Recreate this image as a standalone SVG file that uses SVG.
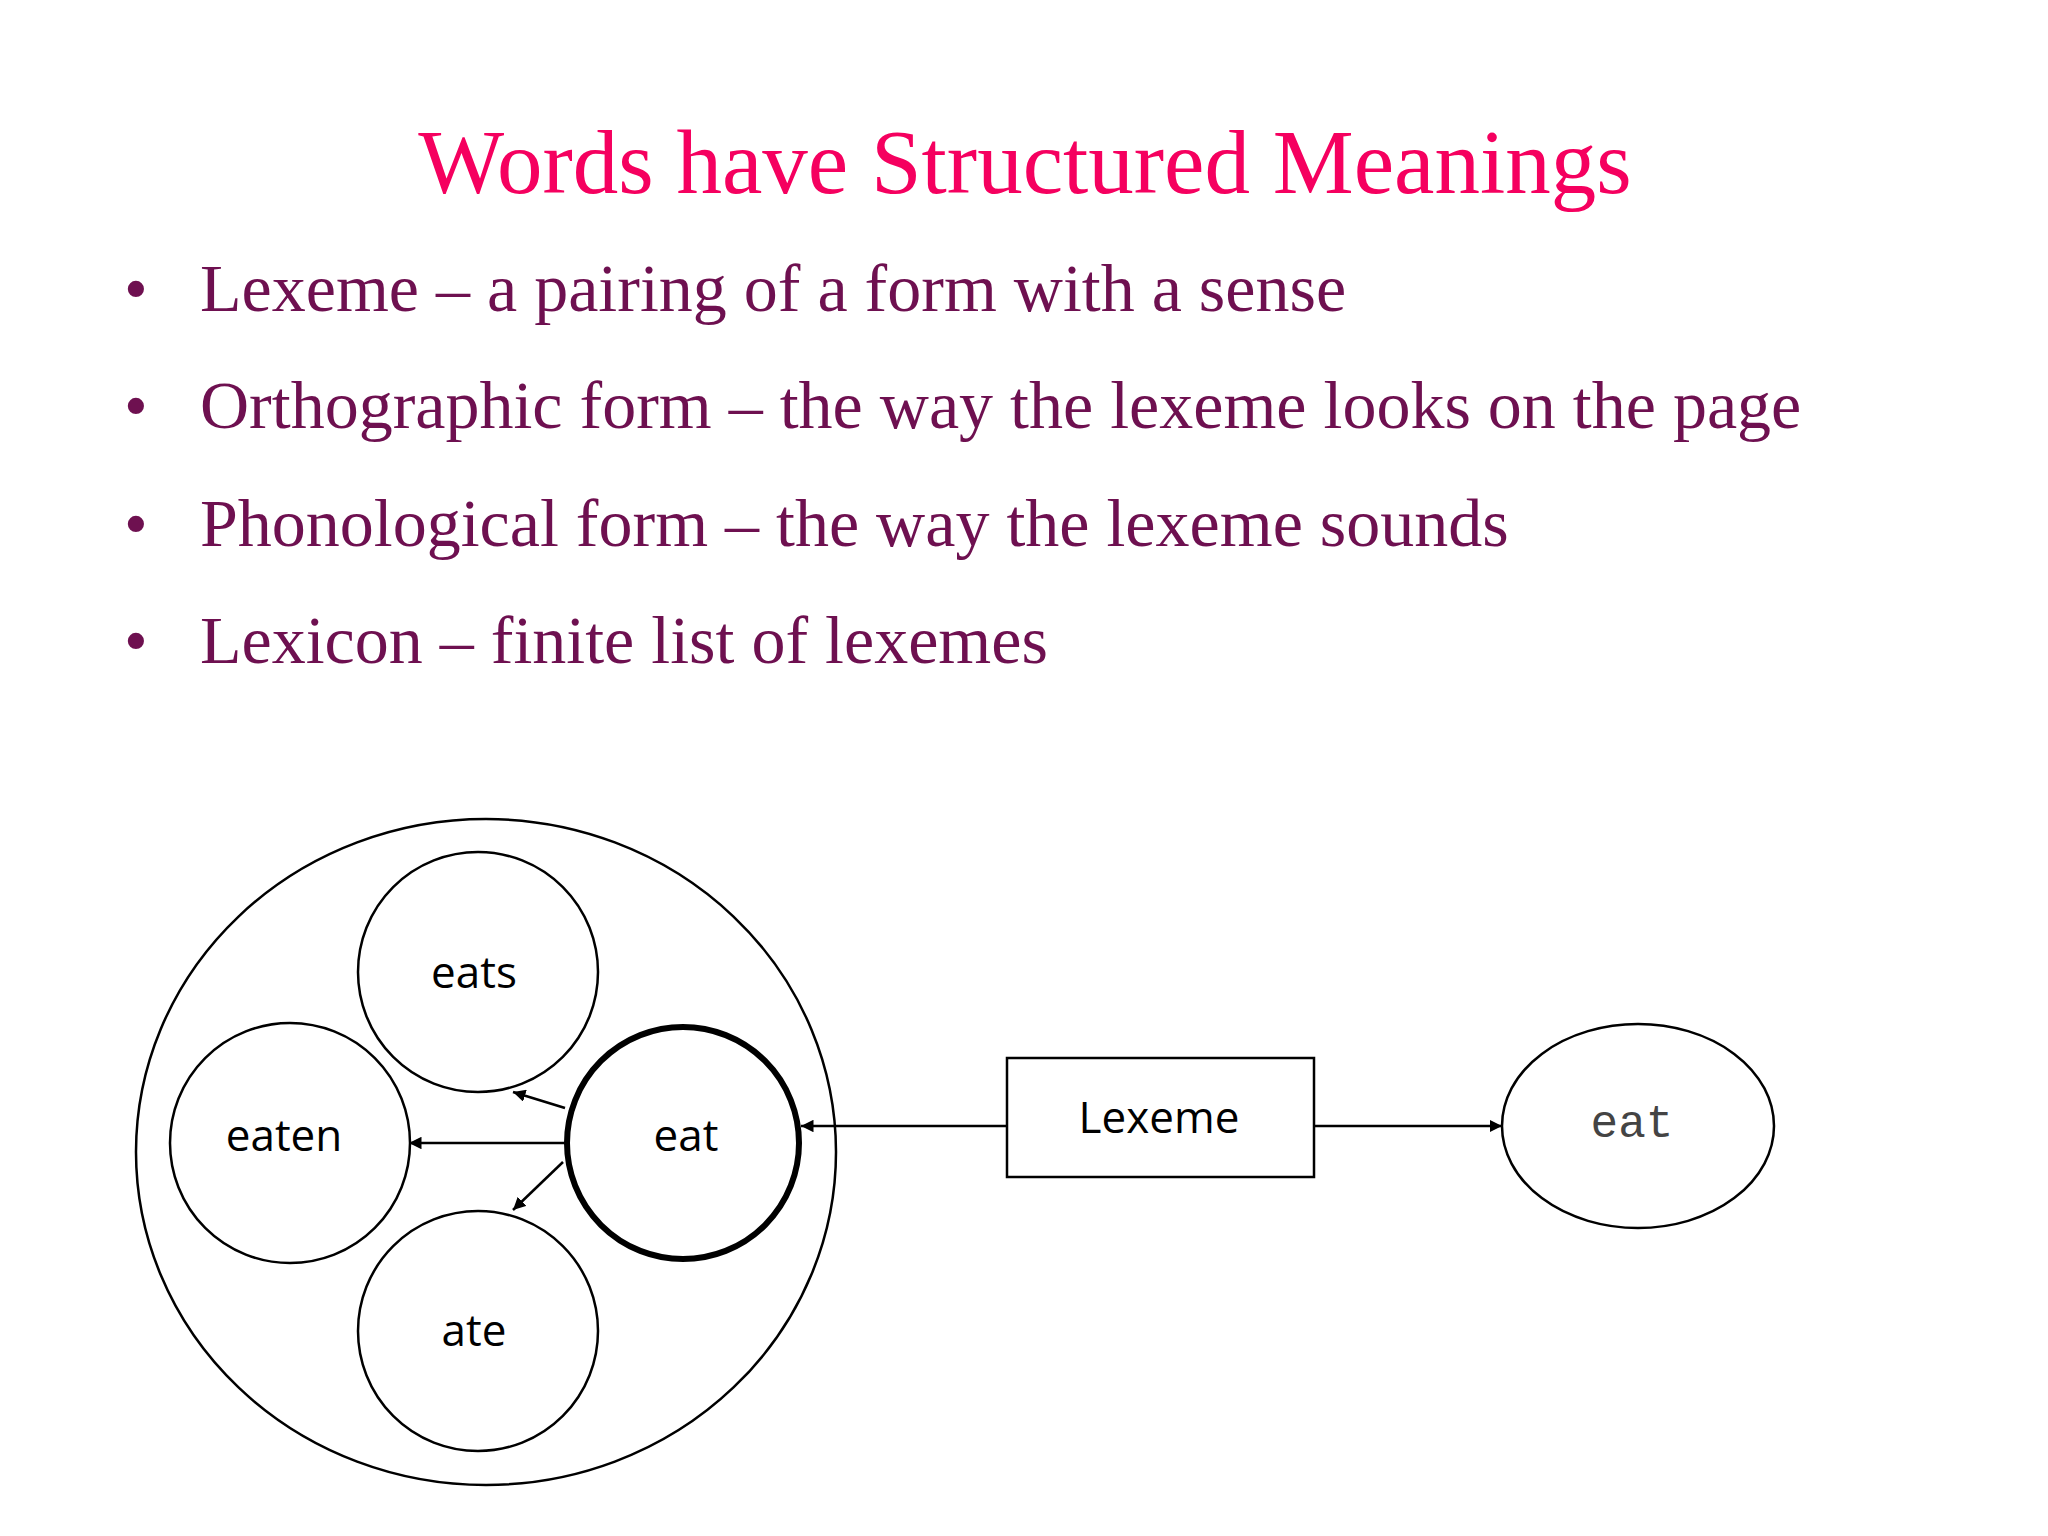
<svg xmlns="http://www.w3.org/2000/svg" width="2048" height="1536" viewBox="0 0 2048 1536">
<style>
.t{font-family:"Liberation Serif",serif;}
.b{font-family:"Liberation Serif",serif;font-size:68px;fill:#6E1050;}
.n{font-family:"Open Sans","Liberation Sans",sans-serif;font-size:44px;fill:#000;text-anchor:middle;}
.c{fill:#fff;stroke:#000;stroke-width:2.5;}
.l{stroke:#000;stroke-width:2.5;fill:none;}
</style>
<defs>
<marker id="a" viewBox="0 0 10 10" refX="10" refY="5" markerWidth="5" markerHeight="5" orient="auto"><path d="M0,0L10,5L0,10z" fill="#000"/></marker>
</defs>
<rect width="2048" height="1536" fill="#fff"/>
<text class="t" x="1025" y="193" font-size="91" fill="#F5005F" text-anchor="middle">Words have Structured Meanings</text>
<g class="b">
<text x="124" y="311">•</text><text x="200" y="311">Lexeme – a pairing of a form with a sense</text>
<text x="124" y="428">•</text><text x="200" y="428">Orthographic form – the way the lexeme looks on the page</text>
<text x="124" y="546">•</text><text x="200" y="546">Phonological form – the way the lexeme sounds</text>
<text x="124" y="663">•</text><text x="200" y="663">Lexicon – finite list of lexemes</text>
</g>
<g id="outer"><ellipse class="c" cx="486" cy="1152" rx="350" ry="333"/></g>
<g id="eats"><circle class="c" cx="478" cy="972" r="120"/><text class="n" x="474" y="988">eats</text></g>
<g id="eaten"><circle class="c" cx="290" cy="1143" r="120"/><text class="n" x="284" y="1151">eaten</text></g>
<g id="ate"><circle class="c" cx="478" cy="1331" r="120"/><text class="n" x="474" y="1346">ate</text></g>
<g id="eat"><circle class="c" cx="683" cy="1143" r="116" style="stroke-width:6"/><text class="n" x="686" y="1151">eat</text></g>
<g id="lexeme"><rect class="c" x="1007" y="1058" width="307" height="119"/><text class="n" x="1159" y="1133">Lexeme</text></g>
<g id="form"><ellipse class="c" cx="1638" cy="1126" rx="136" ry="102"/><text x="1632" y="1137" font-family="Liberation Mono,monospace" font-size="46" fill="#444" text-anchor="middle">eat</text></g>
<g id="connectors">
<line class="l" x1="1007" y1="1126" x2="801" y2="1126" marker-end="url(#a)"/>
<line class="l" x1="1314" y1="1126" x2="1502" y2="1126" marker-end="url(#a)"/>
<line class="l" x1="565" y1="1143" x2="409" y2="1143" marker-end="url(#a)"/>
<line class="l" x1="565" y1="1108" x2="513" y2="1092" marker-end="url(#a)"/>
<line class="l" x1="563" y1="1162" x2="513" y2="1210" marker-end="url(#a)"/>
</g>
</svg>
